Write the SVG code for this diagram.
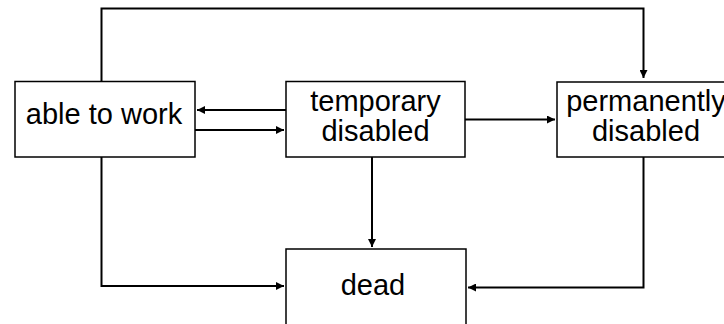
<svg xmlns="http://www.w3.org/2000/svg" width="724" height="324" viewBox="0 0 724 324">
<defs>
<style>
.box{fill:#fff;stroke:#000;stroke-width:1.5}
.lbl{font-family:"Liberation Sans",Arial,sans-serif;font-size:29px;fill:#000;text-anchor:middle}
.con{fill:none;stroke:#000;stroke-width:2}
</style>
<marker id="ah" viewBox="0 0 10 10" refX="10" refY="5" markerWidth="4" markerHeight="4" orient="auto" markerUnits="strokeWidth">
<path d="M0,0 L10,5 L0,10 z" fill="#000"/>
</marker>
</defs>
<rect width="724" height="324" fill="#fff"/>
<g id="connectors">
<path class="con" d="M101.5,81 V8.5 H643.5 V78" marker-end="url(#ah)"/>
<path class="con" d="M286,110 H197" marker-end="url(#ah)" stroke-width="1.5"/>
<path class="con" d="M195,130 H284" marker-end="url(#ah)"/>
<path class="con" d="M465,119.5 H555" marker-end="url(#ah)"/>
<path class="con" d="M372,157 V247" marker-end="url(#ah)"/>
<path class="con" d="M101.5,157 V286 H284" marker-end="url(#ah)" stroke-width="1.8"/>
<path class="con" d="M643.5,157 V287.5 H468" marker-end="url(#ah)"/>
</g>
<g id="able">
<rect class="box" x="15" y="81.5" width="180" height="75.5"/>
<text class="lbl" x="104" y="124">able to work</text>
</g>
<g id="temporary">
<rect class="box" x="286" y="81.5" width="179" height="75.5"/>
<text class="lbl" x="375.5" y="110.5">temporary</text>
<text class="lbl" x="375.5" y="141">disabled</text>
</g>
<g id="permanently">
<rect class="box" x="557" y="82" width="180" height="75"/>
<text class="lbl" x="646" y="110.5">permanently</text>
<text class="lbl" x="646" y="141">disabled</text>
</g>
<g id="dead">
<rect class="box" x="286" y="249" width="180" height="90"/>
<text class="lbl" x="373" y="295">dead</text>
</g>
</svg>
